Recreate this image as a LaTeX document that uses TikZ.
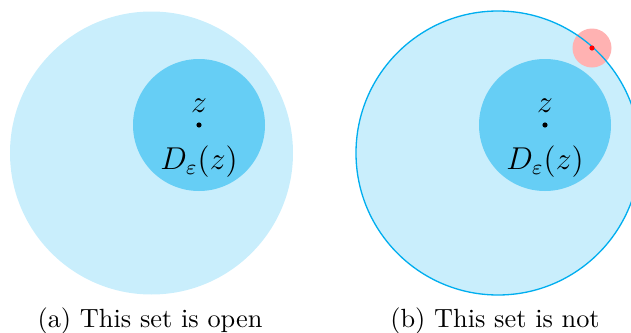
\documentclass[tikz,border=0pt]{standalone}
\usetikzlibrary{calc}
\definecolor{procyan}{RGB}{0,174,239}
\colorlet{outerfill}{procyan!21}
\colorlet{innerfill}{procyan!60}
\tikzset{
  outerdisk/.style={fill=outerfill},
  innerdisk/.style={fill=innerfill},
  ptlabel/.style={font=\fontsize{11.5}{13}\selectfont, inner sep=0pt},
  caption/.style={font=\normalsize, inner sep=0pt},
}
\begin{document}
\begin{tikzpicture}[x=0.38pt,y=-0.38pt]
\useasboundingbox (0,0) rectangle (631,333);
\clip (0,0) rectangle (631,333);
% (a)
\fill[outerdisk] (151.5,153) circle (141.5);
\fill[innerdisk] (199,125) circle (66);
\fill (199,125) circle (2.6);
\node[ptlabel] (za) at (199,106) {$z$};
\node[ptlabel] (Da) at (199,162) {$D_\varepsilon(z)$};
\node[caption] (capa) at (150,321) {(a) This set is open};
% (b)
\fill[outerdisk] (498,153) circle (142);
\fill[innerdisk] (545,125) circle (66);
\fill (545,125) circle (2.6);
\node[ptlabel] (zb) at (545,106) {$z$};
\node[ptlabel] (Db) at (545,162) {$D_\varepsilon(z)$};
\fill[red!30] (592,48) circle (19.5);
\draw[procyan, line width=0.5pt] (498,153) circle (142);
\fill[red] (592,48) circle (2.6);
\node[caption] (capb) at (495,321) {(b) This set is not};
\end{tikzpicture}
\end{document}
